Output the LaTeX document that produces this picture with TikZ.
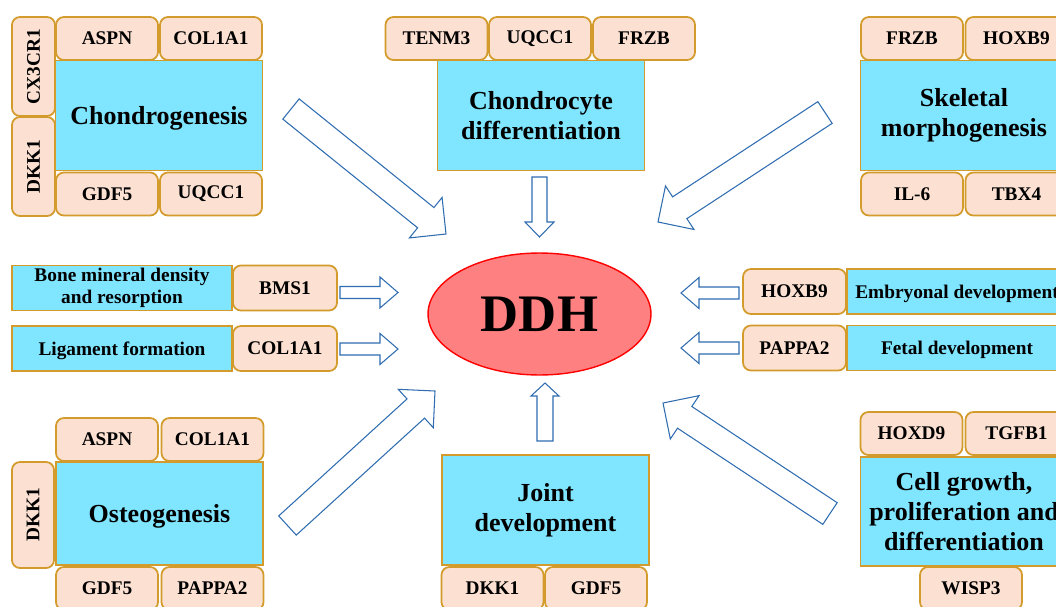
\documentclass[tikz,border=0pt]{standalone}
\usepackage{fontspec}
\setmainfont{Liberation Serif}
\usetikzlibrary{calc,shapes.geometric}
\definecolor{sky}{HTML}{80E5FF}
\definecolor{peach}{HTML}{FCE1D3}
\definecolor{gold}{HTML}{D39B2B}
\definecolor{flow}{HTML}{2F6CB0}
\definecolor{rose}{HTML}{FF8080}
\newcommand{\genefont}{\fontsize{11}{12.5}\selectfont\bfseries}
\newcommand{\topicfont}{\fontsize{14.8}{17}\selectfont\bfseries}
\newcommand{\hubfont}{\fontsize{30}{34}\selectfont\bfseries}
% hollow block arrow: tail, tip, shaft half width, head half width, head length (px)
\newcommand{\fatarrow}[5]{%
  \coordinate (#1-b) at ($(#2)!#5*0.02cm!(#1)$);
  \draw[hollow] ($(#1)!#3*0.02cm!90:(#2)$) -- ($(#1-b)!#3*0.02cm!-90:(#1)$)
    -- ($(#1-b)!#4*0.02cm!-90:(#1)$) -- (#2) -- ($(#1-b)!#4*0.02cm!90:(#1)$)
    -- ($(#1-b)!#3*0.02cm!90:(#1)$) -- ($(#1)!#3*0.02cm!-90:(#2)$) -- cycle;}

\begin{document}
\begin{tikzpicture}[x=0.02cm,y=-0.02cm,
  gene/.style={draw=gold,fill=peach,line width=1pt,rounded corners=4.5pt,inner sep=0pt,
    minimum width=2.04cm,minimum height=0.86cm,font=\genefont},
  topic/.style={draw=gold,fill=sky,line width=1pt,inner sep=0pt,align=center,
    minimum width=4.14cm,minimum height=2.2cm,font=\topicfont},
  side/.style={topic,font=\genefont,minimum width=4.4cm,minimum height=0.9cm},
  hub/.style={ellipse,draw=red,fill=rose,line width=0.8pt,inner sep=0pt,
    minimum width=4.46cm,minimum height=2.44cm,font=\hubfont},
  hollow/.style={draw=flow,line width=0.6pt,fill=white,line join=miter}]
\useasboundingbox (0,0) rectangle (1056,606);
\clip (0,0) rectangle (1056,606);

\node[hub] (ddh) at (539.5,314) {DDH};

% chondrogenesis
\node[topic,text depth=0pt] (chon) at (159,115.5) {Chondrogenesis};
\foreach \g/\x/\y in {ASPN/107/38.5,COL1A1/211/38.5,GDF5/107/194,UQCC1/211/194}
  \node[gene] (chon-\g) at (\x,\y) {\g};
\node[gene,rotate=90,minimum width=1.98cm] (chon-CX3CR1) at (33.5,66.5) {CX3CR1};
\node[gene,rotate=90,minimum width=1.98cm] (chon-DKK1) at (33.5,166.5) {DKK1};

% chondrocyte differentiation
\node[topic] (cdiff) at (541,115.5) {Chondrocyte\\differentiation};
\foreach \g/\x in {TENM3/436.5,UQCC1/540,FRZB/644}
  \node[gene] (cdiff-\g) at (\x,38.5) {\g};

% skeletal morphogenesis
\node[topic] (skel) at (964,115.5) {Skeletal\\morphogenesis};
\foreach \g/\x/\y in {FRZB/912/38.5,HOXB9/1016.5/38.5,IL-6/912/194,TBX4/1016.5/194}
  \node[gene] (skel-\g) at (\x,\y) {\g};

% side rows
\node[side] (bone) at (122,288) {Bone mineral density\\and resorption};
\node[gene,minimum width=2.08cm,minimum height=0.9cm] (bone-BMS1) at (285,288) {BMS1};
\node[side,text depth=0pt] (lig) at (122,348.5) {Ligament formation};
\node[gene,minimum width=2.08cm,minimum height=0.9cm] (lig-COL1A1) at (285,348.5) {COL1A1};
\node[side,text depth=0pt] (embryo) at (957,291.5) {Embryonal development};
\node[gene,minimum width=2.06cm,minimum height=0.9cm] (embryo-HOXB9) at (794.5,291.5) {HOXB9};
\node[side,text depth=0pt] (fetal) at (957,348) {Fetal development};
\node[gene,minimum width=2.06cm,minimum height=0.9cm] (fetal-PAPPA2) at (794.5,348) {PAPPA2};

% osteogenesis
\node[topic,minimum height=2.06cm,text depth=0pt] (osteo) at (159.5,513.5) {Osteogenesis};
\foreach \g/\x/\y in {ASPN/107/439.5,COL1A1/212.5/439.5,GDF5/107/588.5,PAPPA2/212.5/588.5}
  \node[gene] (osteo-\g) at (\x,\y) {\g};
\node[gene,rotate=90,minimum width=2.12cm,minimum height=0.84cm] (osteo-DKK1) at (33,515) {DKK1};

% joint development
\node[topic] (joint) at (545.5,510) {Joint\\development};
\foreach \g/\x in {DKK1/492.5,GDF5/596}
  \node[gene] (joint-\g) at (\x,588.5) {\g};

% cell growth
\node[topic,minimum height=2.18cm] (cell) at (964,511.5) {Cell growth,\\proliferation and\\differentiation};
\foreach \g/\x/\y in {HOXD9/911.5/433.5,TGFB1/1016.5/433.5,WISP3/971/588.5}
  \node[gene] (cell-\g) at (\x,\y) {\g};

% arrows into DDH
\coordinate (chon-tail) at (291,109);     \coordinate (chon-tip) at (446,234);
\coordinate (cdiff-tail) at (539.5,177);  \coordinate (cdiff-tip) at (539.5,237);
\coordinate (skel-tail) at (825,112.5);   \coordinate (skel-tip) at (658,222);
\coordinate (bone-tail) at (340,292.5);   \coordinate (bone-tip) at (398,292.5);
\coordinate (lig-tail) at (340,349);      \coordinate (lig-tip) at (398,349);
\coordinate (embryo-tail) at (739,293);   \coordinate (embryo-tip) at (681,293);
\coordinate (fetal-tail) at (739,348);    \coordinate (fetal-tip) at (681,348);
\coordinate (osteo-tail) at (287.5,525.5);\coordinate (osteo-tip) at (435,391);
\coordinate (joint-tail) at (545,441);    \coordinate (joint-tip) at (545,383);
\coordinate (cell-tail) at (830,513.5);   \coordinate (cell-tip) at (663,403);
\foreach \s in {chon,skel,osteo,cell}
  \fatarrow{\s-tail}{\s-tip}{13}{26}{26};
\foreach \s in {bone,lig,embryo,fetal}
  \fatarrow{\s-tail}{\s-tip}{6}{15.5}{18};
\fatarrow{cdiff-tail}{cdiff-tip}{7.5}{14.5}{15};
\fatarrow{joint-tail}{joint-tip}{8}{14}{13};
\end{tikzpicture}
\end{document}
